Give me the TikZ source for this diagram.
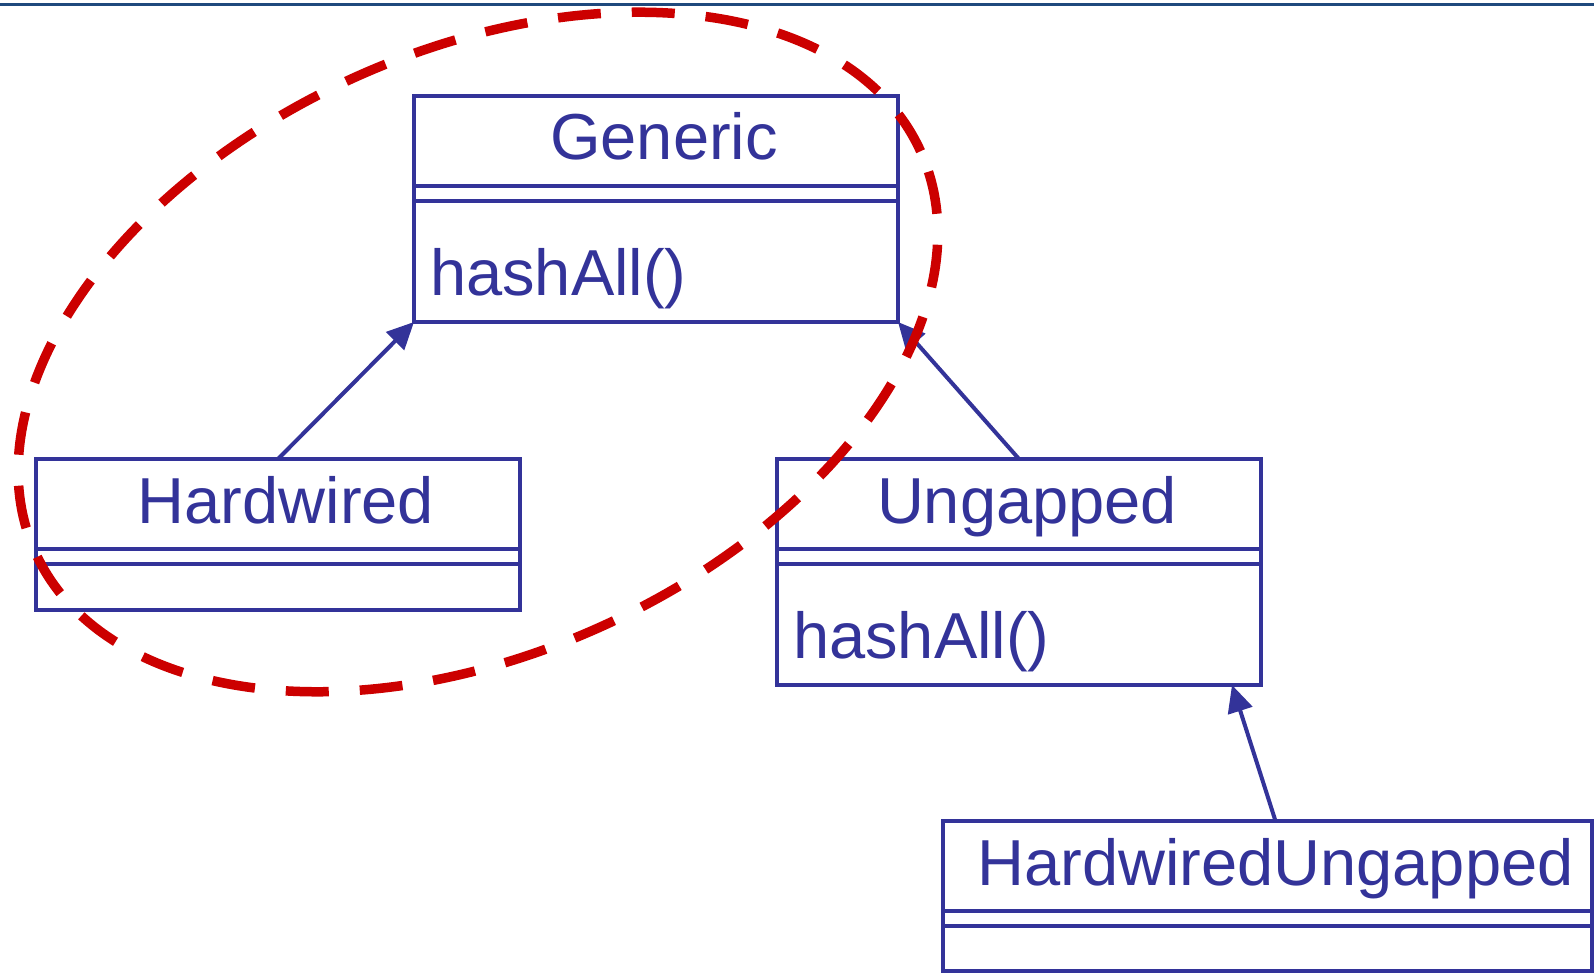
\documentclass[tikz,border=0pt]{standalone}
\usepackage{fontspec}
\setmainfont{Liberation Sans}
\usetikzlibrary{arrows.meta}

\definecolor{umlblue}{RGB}{51,51,153}
\definecolor{ringred}{RGB}{204,0,0}
\definecolor{barblue}{RGB}{31,73,125}

\tikzset{
    classline/.style={draw=umlblue, line width=4pt},
    classtext/.style={text=umlblue, inner sep=0pt, font=\fontsize{65}{70}\selectfont},
    inherit/.style={umlblue, line width=4pt, -{Triangle[length=27pt,width=25pt]}},
    hashring/.style={ringred, line width=9.5pt, dash pattern=on 43pt off 31pt},
    pics/umlclass/.style args={#1/#2/#3/#4}{
        code={
            \node[classline, anchor=north west, inner sep=0pt, outer sep=0pt,
                  minimum width=#1pt, minimum height={105pt+#2pt}] (-box) at (0,0) {};
            \draw[classline] ([yshift=-90pt]-box.north west) -- ([yshift=-90pt]-box.north east);
            \draw[classline] ([yshift=-105pt]-box.north west) -- ([yshift=-105pt]-box.north east);
            \node[classtext, anchor=base] (-name) at ([xshift=8pt,yshift=-64pt]-box.north) {#3};
            \node[classtext, anchor=base west] (-ops) at ([xshift=16pt,yshift=-199pt]-box.north west) {#4};
        }
    }
}

\begin{document}
\begin{tikzpicture}[x=1pt, y=-1pt]
                      \fill[white] (0,0) rectangle (1594,973);
                      \useasboundingbox (0,0) rectangle (1594,973);
                      \draw[barblue, line width=3pt] (0,4.5) -- (1594,4.5);

                      \pic (gen) at (414,96) {umlclass=484/121/Generic/hashAll()};
                      \pic (hw) at (36,459) {umlclass=484/46/Hardwired/};
                      \pic (ung) at (777,459) {umlclass=484/121/Ungapped/hashAll()};
                      \pic (hu) at (943,821) {umlclass=649/45/HardwiredUngapped/};

                      \draw[inherit] (hw-box.north) -- (gen-box.south west);
                      \draw[inherit] (ung-box.north) -- (gen-box.south east);
                      \draw[inherit] ([xshift=8pt]hu-box.north) -- ([xshift=-29pt]ung-box.south east);

                      \coordinate (ring) at (478,352);
                      \draw[hashring, rotate around={24.4:(ring)}] (ring) ellipse [x radius=486pt, y radius=301pt];
                  \end{tikzpicture}
\end{document}
